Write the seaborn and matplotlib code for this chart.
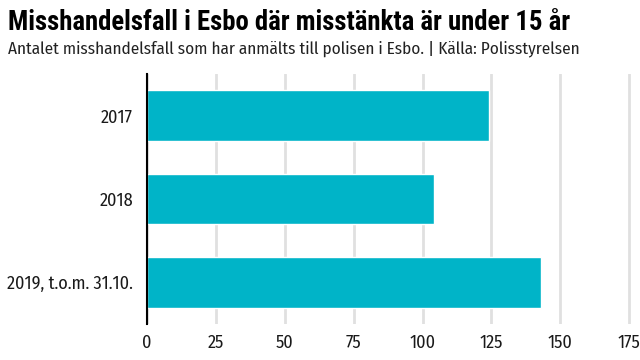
import seaborn as sns
import matplotlib.pyplot as plt
import pandas as pd

# data
years = ["2017", "2018", "2019, t.o.m. 31.10."]
cases = [124, 104, 143]
ticks = [0, 25, 50, 75, 100, 125, 150, 175]

title = "Misshandelsfall i Esbo där misstänkta är under 15 år"
subtitle = "Antalet misshandelsfall som har anmälts till polisen i Esbo. | Källa: Polisstyrelsen"

df = pd.DataFrame({"year": years, "cases": cases})

sns.set_theme(style="white")
body_font = ['Fira Sans Condensed', 'Roboto Condensed', 'Liberation Sans', 'DejaVu Sans']
head_font = ['Roboto Condensed', 'Fira Sans Condensed', 'Liberation Sans', 'DejaVu Sans']
plt.rcParams['font.family'] = body_font

fig = plt.figure(figsize=(6.4, 3.6), dpi=100)
ax = fig.add_axes([147 / 640, 1 - 324 / 360, (632 - 147) / 640, (324 - 74) / 360])

sns.barplot(data=df, x="cases", y="year", color="#00b4c8", width=0.61,
            saturation=1, ax=ax, zorder=2)

ax.set_xlim(0, 176)
ax.set_xticks(ticks)
ax.xaxis.grid(True, color="#e0e0e0", linewidth=2, zorder=0)
ax.set_axisbelow(True)
ax.set_xlabel("")
ax.set_ylabel("")
ax.tick_params(axis="y", length=0, labelsize=13, colors="#1a1a1a", pad=10)
ax.tick_params(axis="x", length=0, labelsize=13, colors="#1a1a1a", pad=7)

for s in ["top", "right", "bottom"]:
    ax.spines[s].set_visible(False)
ax.spines["left"].set_color("black")
ax.spines["left"].set_linewidth(1.5)
ax.spines["left"].set_zorder(3)

t1 = fig.text(8 / 640, 1 - 22 / 360, title, family=head_font,
              fontsize=19, fontweight="bold", color="black", va="center", ha="left")
t2 = fig.text(8 / 640, 1 - 49 / 360, subtitle, family=body_font,
              fontsize=12.5, color="#222222", va="center", ha="left")

# fit header widths to the reference (title ~564 px, subtitle ~575 px)
fig.canvas.draw()
r = fig.canvas.get_renderer()
for t, w in [(t1, 564), (t2, 575)]:
    cur = t.get_window_extent(r).width
    t.set_fontsize(t.get_fontsize() * w / cur)

plt.savefig("out.png", dpi=100)
plt.close()
